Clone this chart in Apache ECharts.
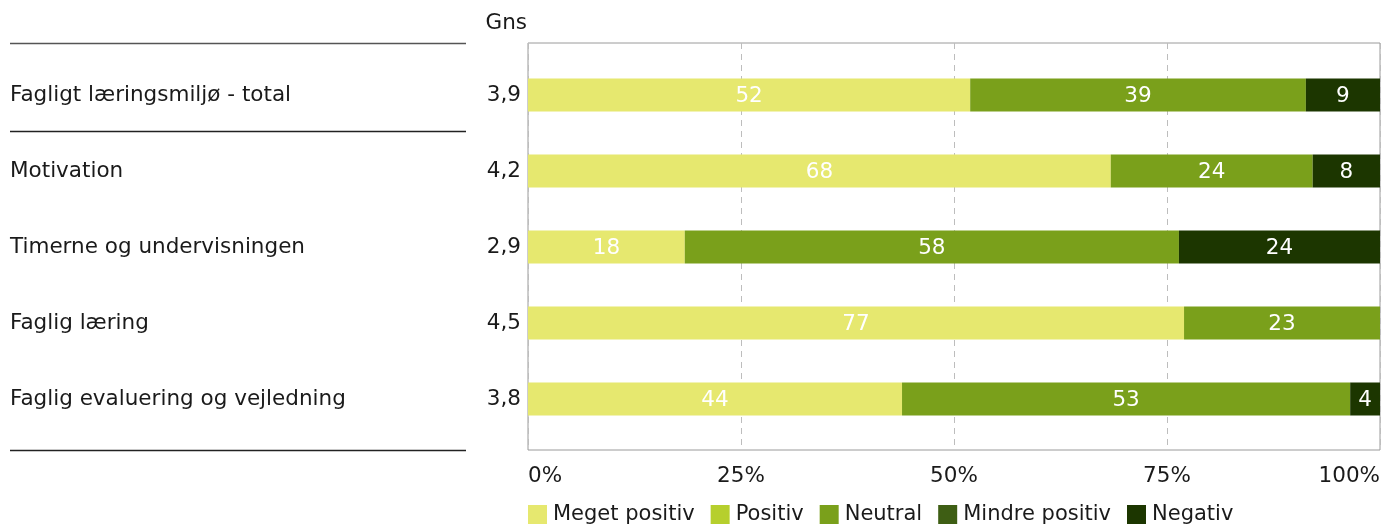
<!DOCTYPE html>
<html>
<head>
<meta charset="utf-8">
<script src="https://cdn.jsdelivr.net/npm/echarts@6/dist/echarts.min.js"></script>
<style>
  html, body { margin: 0; padding: 0; background: #fff; }
  #chart { width: 1398px; height: 526px; }
</style>
</head>
<body>
<div id="chart"></div>
<script>
  // kategorier og gennemsnit
  var categories = ['Fagligt læringsmiljø - total', 'Motivation', 'Timerne og undervisningen', 'Faglig læring', 'Faglig evaluering og vejledning']
  var gns = ['3,9', '4,2', '2,9', '4,5', '3,8']

  // andele i procent
  var megetPositiv = [51.9, 68.4, 18.4, 77.0, 43.9]
  var positiv = [0, 0, 0, 0, 0]
  var neutral = [39.4, 23.7, 58.0, 23.0, 52.6]
  var mindrePositiv = [0, 0, 0, 0, 0]
  var negativ = [8.7, 7.9, 23.6, 0, 3.5]

  var xTicks = [0, 25, 50, 75, 100]

  var FONT = '"DejaVu Sans", Verdana, sans-serif'
  var FS = 21.5
  var TEXT = '#1a1a1a'

  var ec = echarts.init(document.getElementById('chart'))

  function barSeries(name, data, color) {
    return {
      name: name,
      type: 'bar',
      stack: 'total',
      xAxisIndex: 1,
      yAxisIndex: 1,
      barWidth: 33,
      itemStyle: { color: color },
      label: {
        show: true,
        position: 'inside',
        offset: [0, 1.5],
        color: '#fff',
        fontFamily: FONT,
        fontSize: FS,
        formatter: function (p) {
          return p.value > 0 ? Math.round(p.value) : ''
        }
      },
      emphasis: { disabled: true },
      data: data
    }
  }

  ec.setOption({
    animation: false,
    textStyle: { fontFamily: FONT },
    title: {
      text: 'Gns',
      right: 1398 - 527,
      top: 12,
      padding: 0,
      textStyle: { fontFamily: FONT, fontSize: FS, fontWeight: 'normal', color: TEXT }
    },
    legend: {
      left: 528,
      top: 504,
      padding: 0,
      icon: 'rect',
      itemWidth: 19,
      itemHeight: 19,
      itemGap: 16,
      selectedMode: false,
      textStyle: { fontFamily: FONT, fontSize: 21, color: TEXT, padding: [2, 0, 0, 1] },
      data: ['Meget positiv', 'Positiv', 'Neutral', 'Mindre positiv', 'Negativ']
    },
    grid: [
      // ramme og gitterlinjer
      { left: 528, top: 43, width: 852, height: 407, show: true, borderColor: '#9a9a9a', borderWidth: 1 },
      // selve søjlerne
      { left: 528, top: 57, width: 852, height: 380 }
    ],
    xAxis: [
      {
        gridIndex: 0,
        type: 'value',
        min: xTicks[0],
        max: xTicks[xTicks.length - 1],
        interval: 25,
        axisLine: { show: false },
        axisTick: { show: false },
        splitLine: { show: true, lineStyle: { color: '#bdbdbd', type: [6, 5] } },
        axisLabel: {
          margin: 15,
          fontFamily: FONT,
          fontSize: FS,
          color: TEXT,
          formatter: '{value}%',
          alignMinLabel: 'left',
          alignMaxLabel: 'right'
        }
      },
      {
        gridIndex: 1,
        type: 'value',
        min: 0,
        max: 100,
        show: false
      }
    ],
    yAxis: [
      { gridIndex: 0, type: 'value', show: false },
      {
        gridIndex: 1,
        type: 'category',
        inverse: true,
        data: categories,
        axisLine: { show: false },
        axisTick: { show: false },
        axisLabel: {
          align: 'left',
          margin: 518,
          padding: [3, 0, 0, 0],
          fontFamily: FONT,
          fontSize: FS,
          color: TEXT
        }
      },
      {
        gridIndex: 1,
        type: 'category',
        position: 'left',
        inverse: true,
        data: gns,
        axisLine: { show: false },
        axisTick: { show: false },
        axisLabel: {
          margin: 7,
          padding: [3, 0, 0, 0],
          fontFamily: FONT,
          fontSize: FS,
          color: TEXT
        }
      }
    ],
    graphic: [
      { type: 'line', shape: { x1: 10, y1: 43.5, x2: 466, y2: 43.5 }, style: { stroke: '#555', lineWidth: 1.5 } },
      { type: 'line', shape: { x1: 10, y1: 131.5, x2: 466, y2: 131.5 }, style: { stroke: '#222', lineWidth: 1.5 } },
      { type: 'line', shape: { x1: 10, y1: 450.5, x2: 466, y2: 450.5 }, style: { stroke: '#222', lineWidth: 1.5 } }
    ],
    series: [
      barSeries('Meget positiv', megetPositiv, '#e6e86f'),
      barSeries('Positiv', positiv, '#b6cf2d'),
      barSeries('Neutral', neutral, '#7aa01b'),
      barSeries('Mindre positiv', mindrePositiv, '#3e5e14'),
      barSeries('Negativ', negativ, '#1c3600')
    ]
  })

  window.addEventListener('resize', ec.resize)
</script>
</body>
</html>
